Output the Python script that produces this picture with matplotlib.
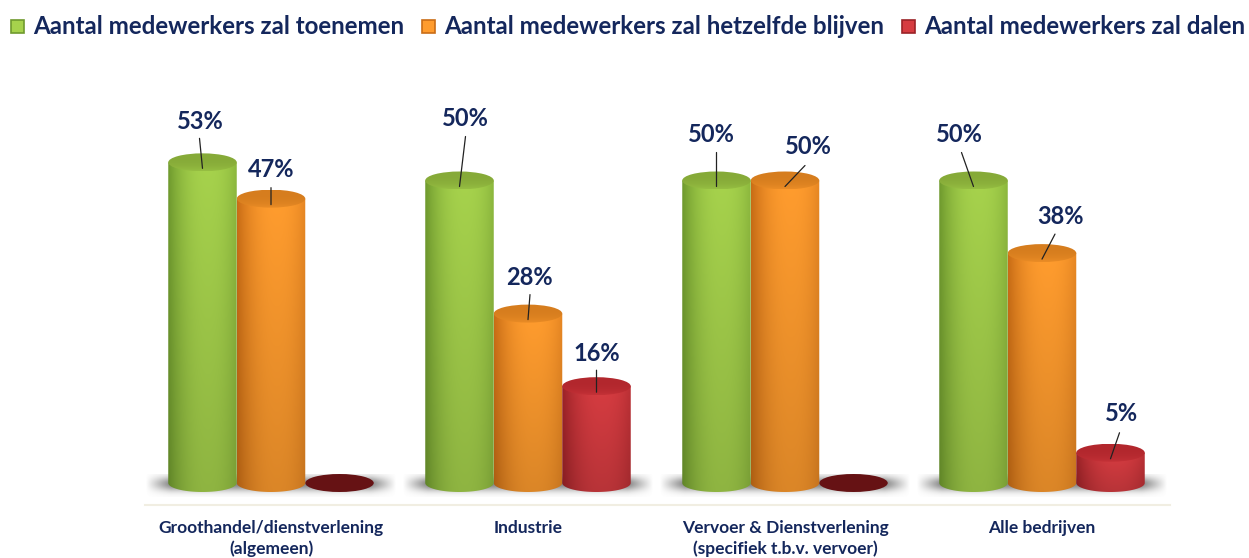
import numpy as np
import matplotlib
matplotlib.use("Agg")
import matplotlib.pyplot as plt
from matplotlib.patches import Ellipse, PathPatch, Rectangle
from matplotlib.path import Path

plt.rcParams["font.family"] = "Lato"

categories = ["Groothandel/dienstverlening\n(algemeen)", "Industrie",
              "Vervoer & Dienstverlening\n(specifiek t.b.v. vervoer)", "Alle bedrijven"]
series_names = ["Aantal medewerkers zal toenemen", "Aantal medewerkers zal hetzelfde blijven",
                "Aantal medewerkers zal dalen"]
toenemen = [53, 50, 50, 50]
hetzelfde = [47, 28, 50, 38]
dalen = [0, 16, 0, 5]

# edge, bright, top face
colors = [("#6f9a2e", "#a6d24c", "#86aa38"),
          ("#c96d16", "#ff9c2e", "#d67d1e"),
          ("#9b2227", "#d63c41", "#b2272d")]
text_color = "#14275c"

# label and leader line end relative to the top of each bar, in pixels (x, y up)
label_off = [[(-2, 41), (0, 29), None],
             [(6, 62), (1, 36), (0, 33)],
             [(-5, 46), (23, 34), None],
             [(-14, 46), (19, 37), (11, 39)]]
line_off = [[(-3, 24), (0, 11), None],
            [(6, 44), (2, 19), (0, 16)],
            [(0, 28), (20, 15), None],
            [(-12, 28), (13, 19), (9, 20)]]

W, H = 1249, 558
PX_PCT = 6.05
BAR_W = 68.5 / 257
ELL_H = 18 / PX_PCT

fig = plt.figure(figsize=(W / 100, H / 100), dpi=100)
ax = fig.add_axes([145 / W, (H - 505) / H, 1025 / W, 445 / H])
x_lim = (-126 / 257, 899 / 257)
y_lim = (-22 / PX_PCT, 423 / PX_PCT)


def cylinder_path(x, v):
    t = np.linspace(np.pi, 2 * np.pi, 40)
    xs = x + BAR_W / 2 * np.cos(t)
    ys = ELL_H / 2 * np.sin(t)
    verts = [(x - BAR_W / 2, v)] + list(zip(xs, ys)) + [(x + BAR_W / 2, v), (x - BAR_W / 2, v)]
    codes = [Path.MOVETO] + [Path.LINETO] * (len(verts) - 2) + [Path.CLOSEPOLY]
    return Path(verts, codes)


def draw_cylinder(x, v, cols, z):
    edge = np.array(matplotlib.colors.to_rgb(cols[0]))
    bright = np.array(matplotlib.colors.to_rgb(cols[1]))
    top = np.array(matplotlib.colors.to_rgb(cols[2]))
    u = np.linspace(0, 1, 80)
    # horizontal shading, brightest a bit right of the middle
    w = np.clip(1 - (np.abs(u - 0.58) / 0.58) ** 2.3, 0, 1)
    row = edge + (bright - edge) * w[:, None]
    fade = np.linspace(1.0, 0.86, 50)[:, None, None]
    img = row[None, :, :] * fade
    im = ax.imshow(img, extent=(x - BAR_W / 2, x + BAR_W / 2, -ELL_H / 2, v),
                   origin="upper", aspect="auto", zorder=z, interpolation="bilinear")
    patch = PathPatch(cylinder_path(x, v), transform=ax.transData, fc="none", ec="none")
    ax.add_patch(patch)
    im.set_clip_path(patch)
    # top face, a little lighter towards the front rim
    grad = np.linspace(0, 1, 30)[:, None, None] ** 3
    face = top[None, None, :] * (1 - grad) + ((top + bright) / 2)[None, None, :] * grad
    fim = ax.imshow(face, extent=(x - BAR_W / 2, x + BAR_W / 2, v - ELL_H / 2, v + ELL_H / 2),
                    origin="upper", aspect="auto", zorder=z + 0.1, interpolation="bilinear")
    ell = Ellipse((x, v), BAR_W, ELL_H, fc="none", ec="none", zorder=z + 0.1)
    ax.add_patch(ell)
    fim.set_clip_path(ell)


# floor shadows
for i in range(len(categories)):
    u = np.linspace(-1, 1, 120)
    v = np.linspace(0, 1, 20)
    a = np.clip((1 - np.abs(u)) / 0.2, 0, 1)[None, :] * (np.exp(-((v - 0.42) / 0.32) ** 2))[:, None]
    img = np.zeros((20, 120, 4))
    img[..., :3] = 0.5
    img[..., 3] = a * 0.95
    ax.imshow(img, extent=(i - 0.49, i + 0.49, -14 / PX_PCT, 9 / PX_PCT), origin="upper",
              aspect="auto", zorder=1, interpolation="bilinear")

all_series = [toenemen, hetzelfde, dalen]
for s, values in enumerate(all_series):
    for i, val in enumerate(values):
        x = i + (s - 1) * BAR_W
        if val == 0:
            ax.add_patch(Ellipse((x, 0), BAR_W, ELL_H, fc="#661214", ec="none", zorder=2))
            continue
        draw_cylinder(x, val, colors[s], 2 + s)
        base = val - 6 / PX_PCT
        lx, ly = line_off[i][s]
        ax.annotate("", xy=(x, base), xytext=(lx, ly + 6), textcoords="offset pixels",
                    arrowprops=dict(arrowstyle="-", color="#222222", lw=0.9, shrinkA=0, shrinkB=0),
                    zorder=8)
        dx, dy = label_off[i][s]
        ax.annotate(f"{val}%", xy=(x, val), xytext=(dx, dy), textcoords="offset pixels",
                    ha="center", va="center", fontsize=17, fontweight="bold",
                    color=text_color, zorder=9)

ax.set_xlim(x_lim)
ax.set_ylim(y_lim)
ax.set_xticks(range(len(categories)))
ax.set_xticklabels(categories, fontsize=12.5, fontweight="bold", color=text_color, linespacing=1.35)
ax.tick_params(axis="x", length=0, pad=10.5)
ax.set_yticks([])
for side in ["top", "left", "right"]:
    ax.spines[side].set_visible(False)
ax.spines["bottom"].set_color("#f1eee2")
ax.spines["bottom"].set_linewidth(1.5)

# legend row
legend_x = [33, 444, 924]
for name, lx, cols in zip(series_names, legend_x, colors):
    fig.text(lx / W, 1 - 26 / H, name, fontsize=17.4, fontweight="bold", color=text_color,
             ha="left", va="center")
    fig.add_artist(Rectangle(((lx - 22) / W, 1 - 33 / H), 13 / W, 13 / H, transform=fig.transFigure,
                             fc=cols[1], ec=cols[0], lw=1.2))

fig.savefig("out.png", dpi=100)
